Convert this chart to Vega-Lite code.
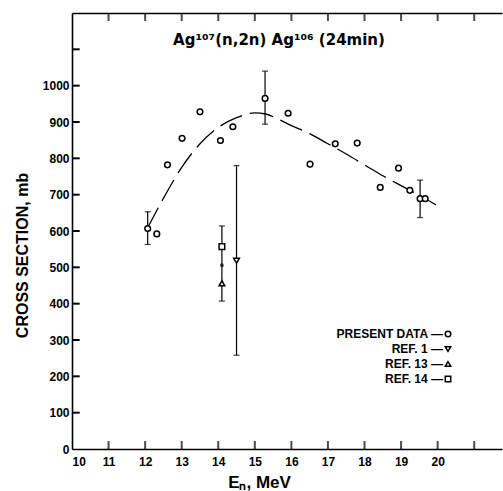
{
  "$schema": "https://vega.github.io/schema/vega-lite/v6.json",
  "width": 430,
  "height": 436,
  "autosize": {"type": "none"},
  "padding": {"left": 72, "top": 13, "right": 1, "bottom": 42},
  "background": "white",
  "title": {"text": "Ag¹⁰⁷(n,2n) Ag¹⁰⁶ (24min)", "offset": -35, "dx": -8, "fontSize": 15, "font": "DejaVu Sans", "fontWeight": "bold", "color": "black"},
  "config": {
    "view": {"stroke": null},
    "font": "Liberation Sans",
    "axis": {"domainColor": "black", "domainWidth": 1.6, "tickColor": "black", "tickWidth": 1.5, "grid": false, "labelColor": "black", "labelFont": "Liberation Sans", "labelFontWeight": "bold", "labelFontSize": 12, "titleFont": "Liberation Sans", "titleFontWeight": "bold", "titleColor": "black"}
  },
  "datasets": {
    "pts": [
      {"series": "PRESENT DATA", "E": 12.07, "sigma": 607},
      {"series": "PRESENT DATA", "E": 12.32, "sigma": 592},
      {"series": "PRESENT DATA", "E": 12.61, "sigma": 782},
      {"series": "PRESENT DATA", "E": 13.01, "sigma": 855},
      {"series": "PRESENT DATA", "E": 13.5, "sigma": 928},
      {"series": "PRESENT DATA", "E": 14.06, "sigma": 849},
      {"series": "PRESENT DATA", "E": 14.4, "sigma": 887},
      {"series": "PRESENT DATA", "E": 15.28, "sigma": 965},
      {"series": "PRESENT DATA", "E": 15.91, "sigma": 924},
      {"series": "PRESENT DATA", "E": 16.51, "sigma": 784},
      {"series": "PRESENT DATA", "E": 17.2, "sigma": 840},
      {"series": "PRESENT DATA", "E": 17.8, "sigma": 842},
      {"series": "PRESENT DATA", "E": 18.43, "sigma": 720},
      {"series": "PRESENT DATA", "E": 18.93, "sigma": 773},
      {"series": "PRESENT DATA", "E": 19.24, "sigma": 712},
      {"series": "PRESENT DATA", "E": 19.52, "sigma": 689},
      {"series": "PRESENT DATA", "E": 19.66, "sigma": 689},
      {"series": "REF. 1", "E": 14.5, "sigma": 518},
      {"series": "REF. 13", "E": 14.1, "sigma": 456},
      {"series": "REF. 14", "E": 14.1, "sigma": 557}
    ],
    "err": [
      {"E": 12.07, "lo": 563, "hi": 653},
      {"E": 15.28, "lo": 894, "hi": 1040},
      {"E": 19.52, "lo": 637, "hi": 740},
      {"E": 14.5, "lo": 258, "hi": 780},
      {"E": 14.1, "lo": 407, "hi": 614}
    ],
    "dot": [{"E": 14.1, "sigma": 506}],
    "xticks": [{"v": 11}, {"v": 12}, {"v": 13}, {"v": 14}, {"v": 15}, {"v": 16}, {"v": 17}, {"v": 18}, {"v": 19}, {"v": 20}, {"v": 21}],
    "yticks": [{"v": 100}, {"v": 200}, {"v": 300}, {"v": 400}, {"v": 500}, {"v": 600}, {"v": 700}, {"v": 800}, {"v": 900}, {"v": 1000}, {"v": 1100}],
    "curve": [
      {"E": 12.05, "sigma": 605},
      {"E": 12.5, "sigma": 690},
      {"E": 13.0, "sigma": 775},
      {"E": 13.5, "sigma": 840},
      {"E": 14.0, "sigma": 885},
      {"E": 14.5, "sigma": 912},
      {"E": 15.0, "sigma": 925},
      {"E": 15.3, "sigma": 922},
      {"E": 15.6, "sigma": 910},
      {"E": 16.0, "sigma": 890},
      {"E": 16.5, "sigma": 868},
      {"E": 17.0, "sigma": 840},
      {"E": 17.5, "sigma": 812},
      {"E": 18.0, "sigma": 782},
      {"E": 18.5, "sigma": 752},
      {"E": 19.0, "sigma": 725},
      {"E": 19.5, "sigma": 698},
      {"E": 19.95, "sigma": 672}
    ]
  },
  "resolve": {"axis": {"x": "independent", "y": "independent"}},
  "layer": [
    {
      "data": {"name": "curve"},
      "mark": {"type": "line", "color": "black", "strokeWidth": 1.3, "strokeDash": [24, 8], "interpolate": "monotone"},
      "encoding": {
        "x": {"field": "E", "type": "quantitative", "scale": {"domain": [10, 21.76], "nice": false, "zero": false},
              "axis": {"orient": "bottom", "offset": -436, "values": [11,12,13,14,15,16,17,18,19,20,21], "labels": false, "ticks": false, "title": null}},
        "y": {"field": "sigma", "type": "quantitative", "scale": {"domain": [0, 1200], "nice": false},
              "axis": {"orient": "left", "values": [0,100,200,300,400,500,600,700,800,900,1000], "format": "d", "tickSize": 0, "labelPadding": 3,
                       "title": "CROSS SECTION, mb", "titleFontSize": 16, "titleAngle": -90, "titleX": -50, "titleY": 242, "titleAlign": "center", "titleBaseline": "middle"}}
      }
    },
    {
      "data": {"name": "xticks"},
      "mark": {"type": "tick", "orient": "vertical", "color": "black", "size": 16, "thickness": 2, "clip": true},
      "encoding": {
        "x": {"field": "v", "type": "quantitative", "axis": null},
        "y": {"datum": 1200, "type": "quantitative", "axis": null}
      }
    },
    {
      "data": {"name": "xticks"},
      "mark": {"type": "tick", "orient": "vertical", "color": "black", "size": 16, "thickness": 2, "clip": true},
      "encoding": {
        "x": {"field": "v", "type": "quantitative", "axis": null},
        "y": {"datum": 0, "type": "quantitative", "axis": null}
      }
    },
    {
      "data": {"name": "yticks"},
      "mark": {"type": "rule", "color": "black", "strokeWidth": 2},
      "encoding": {
        "x": {"datum": 10, "type": "quantitative", "axis": null},
        "x2": {"datum": 10.21},
        "y": {"field": "v", "type": "quantitative", "axis": null}
      }
    },
    {
      "data": {"name": "err"},
      "mark": {"type": "rule", "color": "black", "strokeWidth": 1.2},
      "encoding": {
        "x": {"field": "E", "type": "quantitative", "axis": null},
        "y": {"field": "lo", "type": "quantitative", "axis": null},
        "y2": {"field": "hi"}
      }
    },
    {
      "data": {"name": "err"},
      "mark": {"type": "tick", "orient": "horizontal", "color": "black", "size": 6, "thickness": 1.3},
      "encoding": {
        "x": {"field": "E", "type": "quantitative", "axis": null},
        "y": {"field": "lo", "type": "quantitative", "axis": null}
      }
    },
    {
      "data": {"name": "err"},
      "mark": {"type": "tick", "orient": "horizontal", "color": "black", "size": 6, "thickness": 1.3},
      "encoding": {
        "x": {"field": "E", "type": "quantitative", "axis": null},
        "y": {"field": "hi", "type": "quantitative", "axis": null}
      }
    },
    {
      "data": {"name": "dot"},
      "mark": {"type": "point", "shape": "circle", "filled": true, "color": "black", "size": 14},
      "encoding": {
        "x": {"field": "E", "type": "quantitative", "axis": null},
        "y": {"field": "sigma", "type": "quantitative", "axis": null}
      }
    },
    {
      "data": {"name": "pts"},
      "mark": {"type": "point", "filled": true, "fill": "white", "stroke": "black", "strokeWidth": 1.5, "size": 32, "opacity": 1},
      "encoding": {
        "x": {"field": "E", "type": "quantitative",
              "axis": {"orient": "bottom", "values": [10,11,12,13,14,15,16,17,18,19,20], "tickSize": 0, "labelPadding": 7, "labelFontSize": 12,
                       "title": "Eₙ, MeV", "titleFontSize": 17, "titleX": 187, "titleY": 38, "titleBaseline": "alphabetic", "titleAlign": "center", "titleAnchor": null}},
        "y": {"field": "sigma", "type": "quantitative", "axis": null},
        "shape": {"field": "series", "type": "nominal",
                  "scale": {"domain": ["PRESENT DATA", "REF. 1", "REF. 13", "REF. 14"], "range": ["circle", "triangle-down", "triangle-up", "square"]},
                  "legend": {"orient": "none", "legendX": 370, "legendY": 315, "title": null, "labelExpr": "datum.label + ' —'", "labelAlign": "right", "labelOffset": -11,
                             "labelFont": "Liberation Sans", "labelFontWeight": "bold", "labelFontSize": 12, "labelColor": "black", "symbolSize": 30, "rowPadding": 3,
                             "encode": {"symbols": {"update": {"stroke": {"value": "black"}, "fill": {"value": "white"}, "strokeWidth": {"value": 1.5}, "opacity": {"value": 1}}}}}}
      }
    }
  ]
}
